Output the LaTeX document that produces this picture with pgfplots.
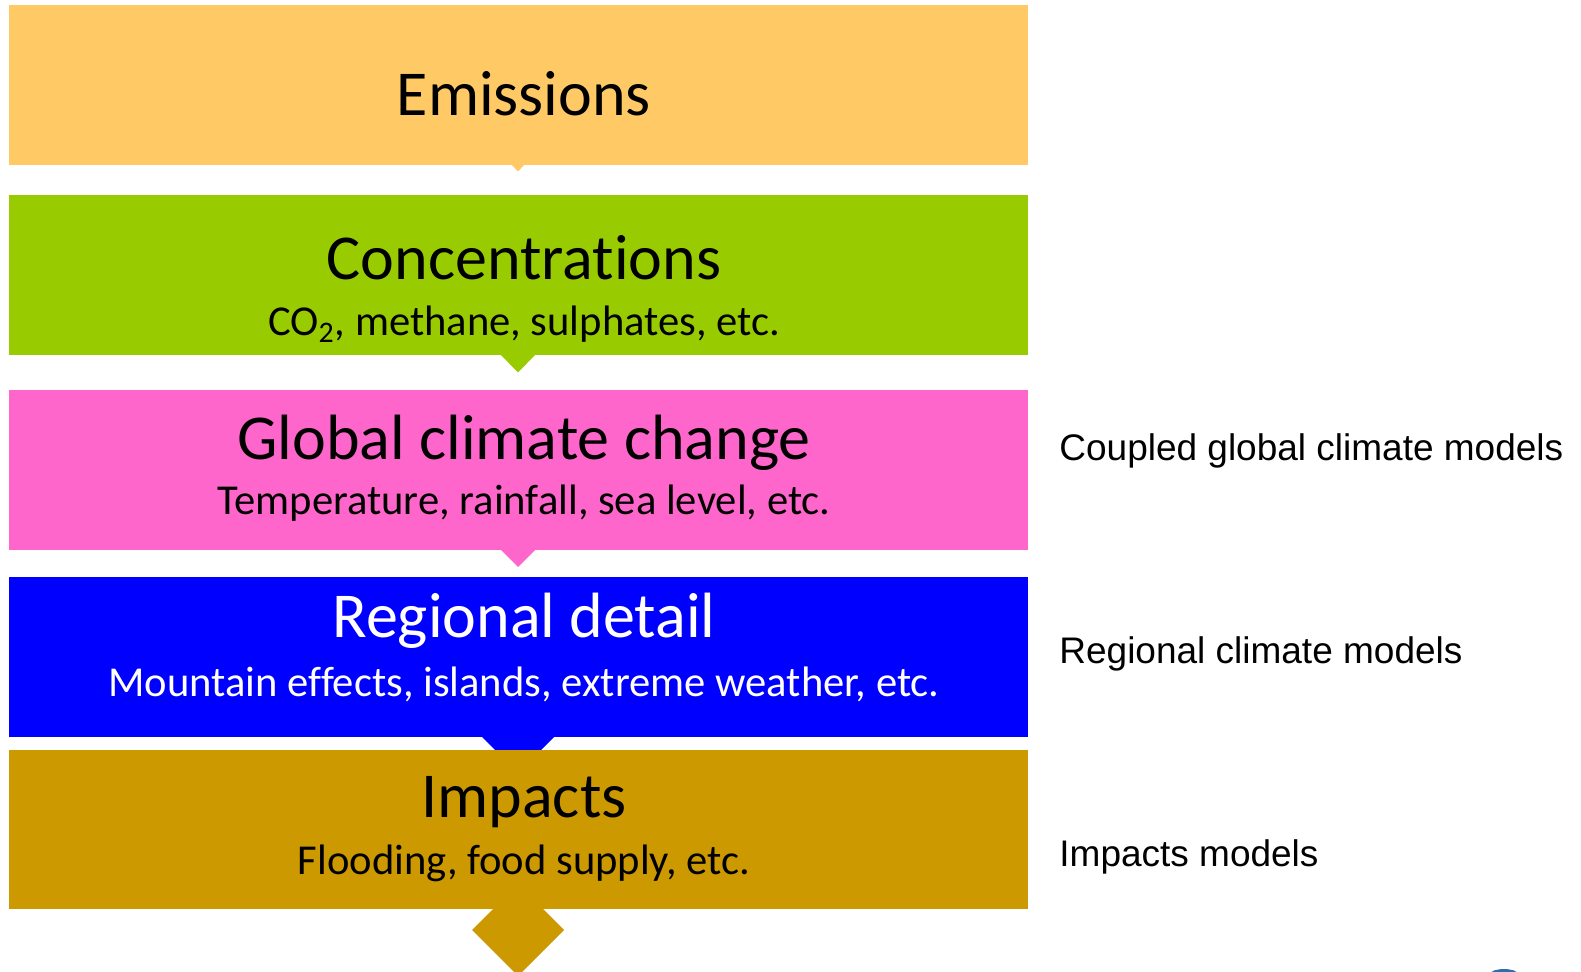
\documentclass[border=0pt]{standalone}
\usepackage{pgfplots}
\pgfplotsset{compat=1.18}
\usepackage{fontspec}
\setmainfont{Carlito}[Ligatures={NoCommon}]
\newfontfamily\arialf{Liberation Sans}
\definecolor{cemis}{HTML}{FFC966}
\definecolor{cconc}{HTML}{99CC00}
\definecolor{cglob}{HTML}{FF66CC}
\definecolor{creg}{HTML}{0000FF}
\definecolor{cimp}{HTML}{CC9900}
\definecolor{ccirc}{HTML}{2E6DB0}
\begin{document}
\begin{tikzpicture}
\begin{axis}[
  width=790.5pt, height=486pt, scale only axis,
  xmin=0, xmax=1581, ymin=0, ymax=972, y dir=reverse,
  hide axis, clip=true,
]
\addplot[fill=white, draw=none] coordinates {(0,0) (1581,0) (1581,972) (0,972)} -- cycle;
% Emissions
\addplot[fill=cemis, draw=none] coordinates {(9,5) (1027.5,5) (1027.5,165) (9,165)} -- cycle;
\addplot[fill=cemis, draw=none] coordinates {(511,164) (525,164) (518,171.5)} -- cycle;
% Concentrations
\addplot[fill=cconc, draw=none] coordinates {(9,195) (1027.5,195) (1027.5,355) (9,355)} -- cycle;
\addplot[fill=cconc, draw=none] coordinates {(500,354) (536,354) (518,372.5)} -- cycle;
% Global
\addplot[fill=cglob, draw=none] coordinates {(9,390) (1027.5,390) (1027.5,550) (9,550)} -- cycle;
\addplot[fill=cglob, draw=none] coordinates {(500,549) (536,549) (518,567)} -- cycle;
% Regional
\addplot[fill=creg, draw=none] coordinates {(9,577) (1027.5,577) (1027.5,737.5) (9,737.5)} -- cycle;
\addplot[fill=creg, draw=none] coordinates {(482,737) (554,737) (518,773)} -- cycle;
% Impacts
\addplot[fill=cimp, draw=none] coordinates {(9,750) (1027.5,750) (1027.5,909.5) (9,909.5)} -- cycle;
\addplot[fill=cimp, draw=none] coordinates {(518,884) (564,930) (518,976) (472,930)} -- cycle;
% circle fragment
\addplot[fill=ccirc, draw=none] coordinates {(1490,973) (1494,970.5) (1500,969.2) (1508,969.2) (1514,970.5) (1518,973)} -- cycle;

\node[anchor=base, font=\fontsize{32}{36}\selectfont] at (axis cs:524,116) {Emissions};
\node[anchor=base, font=\fontsize{32}{36}\selectfont] at (axis cs:524,280) {Concentrations};
\node[anchor=base, font=\fontsize{21.3}{25}\selectfont] at (axis cs:524,336) {CO\textsubscript{2}, methane, sulphates, etc.};
\node[anchor=base, font=\fontsize{32}{36}\selectfont] at (axis cs:524,460) {Global climate change};
\node[anchor=base, font=\fontsize{21.3}{25}\selectfont] at (axis cs:524,515) {Temperature, rainfall, sea level, etc.};
\node[anchor=base, text=white, font=\fontsize{32}{36}\selectfont] at (axis cs:524,638) {Regional detail};
\node[anchor=base, text=white, font=\fontsize{21.3}{25}\selectfont] at (axis cs:524,697) {Mountain effects, islands, extreme weather, etc.};
\node[anchor=base, font=\fontsize{32}{36}\selectfont] at (axis cs:524,818) {Impacts};
\node[anchor=base, font=\fontsize{21.3}{25}\selectfont] at (axis cs:524,875) {Flooding, food supply, etc.};

\node[anchor=base west, inner sep=0pt, font=\arialf\fontsize{18.5}{22}\selectfont] at (axis cs:1059,461) {Coupled global climate models};
\node[anchor=base west, inner sep=0pt, font=\arialf\fontsize{18.5}{22}\selectfont] at (axis cs:1059,664) {Regional climate models};
\node[anchor=base west, inner sep=0pt, font=\arialf\fontsize{18.5}{22}\selectfont] at (axis cs:1059,867) {Impacts models};
\end{axis}
\end{tikzpicture}
\end{document}
